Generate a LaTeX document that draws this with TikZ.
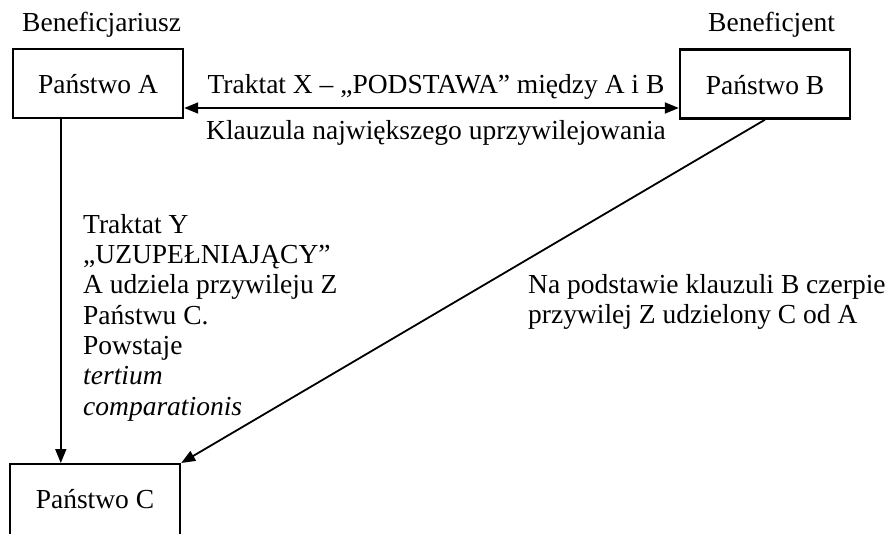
\documentclass[tikz,border=0pt]{standalone}
\usepackage{fontspec}
\setmainfont{Liberation Serif}
\usetikzlibrary{arrows.meta,calc}
\begin{document}
\begin{tikzpicture}[x=1pt,y=-1pt,
  every node/.style={font=\fontsize{27.5}{30.3}\selectfont, inner sep=0pt},
  box/.style={draw, line width=2.4pt, minimum width=170pt, minimum height=69pt, text height=21pt, text depth=0pt},
  arr/.style={line width=1.8pt, -{Triangle[length=14pt,width=11pt]}},
  dbl/.style={line width=1.8pt, {Triangle[length=14pt,width=11pt]}-{Triangle[length=14pt,width=11pt]}},
  lbl/.style={anchor=base west}]
\useasboundingbox (0,0) rectangle (893,534);
\clip (0,0) rectangle (893,534);
\node[box] (A) at (98,83.5) {Państwo A};
\node[box] (B) at (765,84) {Państwo B};
\node[draw, line width=2.4pt, minimum width=170pt, text height=44pt, text depth=40pt, anchor=north] (C) at (95,463) {Państwo C};
\node[lbl] (benA) at (22,32) {Beneficjariusz};
\node[lbl] (benB) at (708,32) {Beneficjent};
\node[anchor=base] (trX) at (436,94) {Traktat X – „PODSTAWA” między A i B};
\node[anchor=base] (kl) at (436,140) {Klauzula największego uprzywilejowania};
\node[anchor=north west, align=left] (tY) at (83,214) {Traktat Y\\„UZUPEŁNIAJĄCY”\\A udziela przywileju Z\\Państwu C.\\Powstaje\\\textit{tertium}\\\textit{comparationis}};
\node[anchor=north west, align=left] (nap) at (528,274) {Na podstawie klauzuli B czerpie\\przywilej Z udzielony C od A};
\coordinate (a1) at ([yshift=-24.5pt]A.east);
\draw[dbl] (a1) -- (a1 -| B.west);
\draw[arr] ([xshift=49pt]A.south west) -- ([xshift=49pt]A.south west |- C.north);
\draw[arr] (B.south) -- (C.north east);
\end{tikzpicture}
\end{document}
